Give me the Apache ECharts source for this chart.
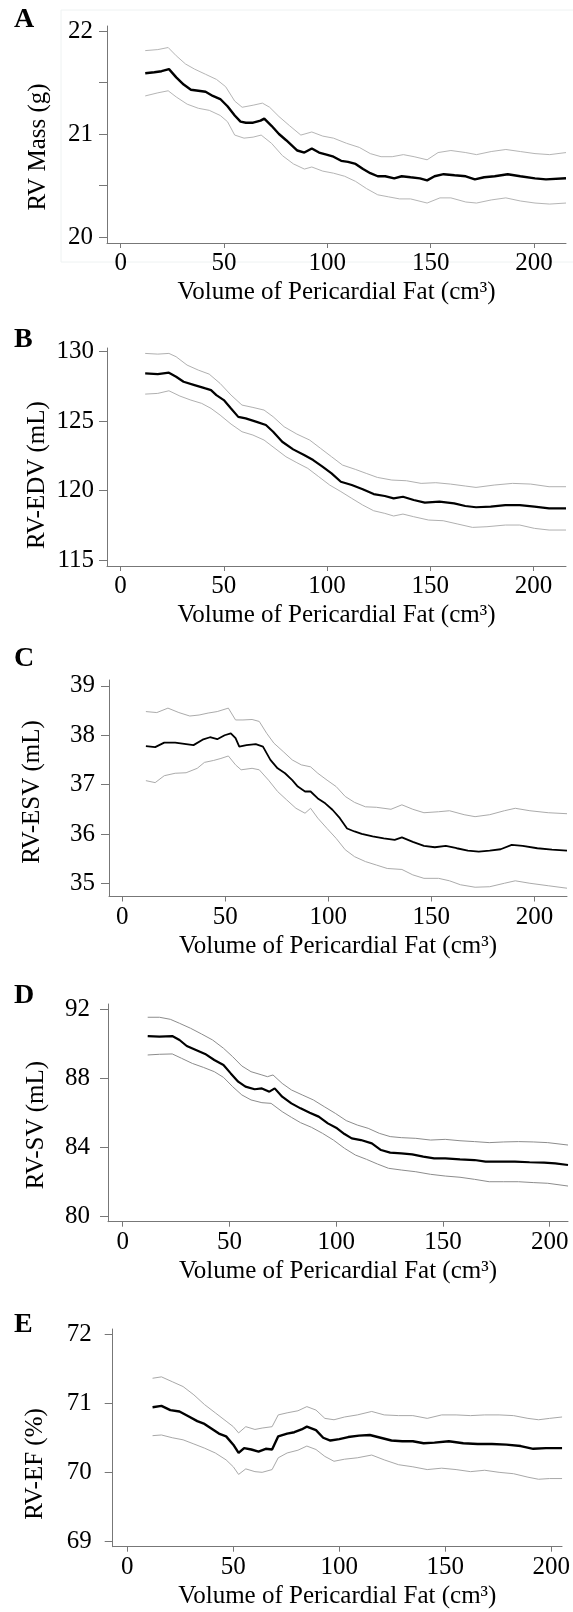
<!DOCTYPE html>
<html>
<head>
<meta charset="utf-8">
<script src="https://cdn.jsdelivr.net/npm/echarts@6/dist/echarts.min.js"></script>
<style>
html,body{margin:0;padding:0;background:#fff;}
#c{width:573px;height:1612px;}
</style>
</head>
<body>
<div id="c"></div>
<script>
// ---- Data (x = volume of pericardial fat, y = estimate) ----
const xTicks = [0, 50, 100, 150, 200];
const xTitle = 'Volume of Pericardial Fat (cm\u00B3)';

// Panel A: RV Mass (g)
const aYTicks = [20, 21, 22];
const aMean = [[11.9,21.59],[16.3,21.60],[19.8,21.61],[23.4,21.63],[26.9,21.55],[30.5,21.48],[34,21.43],[37.6,21.42],[41.1,21.41],[44.6,21.37],[48.2,21.34],[51.7,21.27],[55.2,21.18],[58,21.12],[60.6,21.11],[64.1,21.11],[67.7,21.13],[69.5,21.15],[73,21.08],[76.6,21.00],[80.1,20.94],[82.8,20.89],[85.5,20.84],[88.9,20.82],[92.5,20.86],[96,20.82],[99.6,20.80],[103,20.78],[106.7,20.74],[110,20.73],[113.7,20.71],[117.3,20.66],[120.8,20.62],[124.4,20.59],[128,20.59],[132.4,20.57],[136,20.59],[140.3,20.58],[144.8,20.57],[148.3,20.55],[151.9,20.59],[156.3,20.61],[161.6,20.60],[167,20.59],[171.4,20.56],[175.9,20.58],[181,20.59],[187.3,20.61],[193.4,20.59],[200.5,20.57],[205.8,20.56],[215.5,20.57]];
const aUpper = [[11.9,21.81],[18,21.82],[23,21.84],[26.9,21.76],[31.4,21.68],[35.8,21.63],[41.1,21.58],[46.4,21.53],[50.8,21.46],[55.2,21.32],[58.8,21.26],[64.1,21.28],[68.6,21.30],[72.1,21.26],[76.6,21.17],[81.8,21.08],[87.2,20.99],[92.5,21.02],[97.8,20.98],[103,20.96],[109.3,20.91],[115.5,20.87],[120.8,20.81],[126,20.78],[131.4,20.78],[136.8,20.80],[142,20.78],[148.3,20.75],[153.6,20.82],[159.8,20.84],[167,20.82],[172.2,20.80],[179.3,20.83],[186.4,20.85],[193.4,20.83],[200.5,20.81],[207.6,20.80],[215.5,20.82]];
const aLower = [[11.9,21.37],[18,21.40],[23,21.42],[26.9,21.36],[32.2,21.29],[37.6,21.25],[42.9,21.23],[48.2,21.18],[51.7,21.12],[55.2,20.99],[59.7,20.96],[64.1,20.97],[68,20.99],[73,20.91],[78.3,20.79],[83.6,20.71],[88.9,20.66],[92.5,20.68],[97.8,20.64],[103,20.62],[108.4,20.59],[113.7,20.54],[119,20.47],[124.4,20.41],[129.7,20.39],[135,20.37],[140.3,20.37],[148.3,20.33],[154.5,20.38],[159.8,20.38],[167,20.34],[172.2,20.33],[179.3,20.36],[186.4,20.38],[193.4,20.35],[200.5,20.33],[207.6,20.32],[215.5,20.33]];

// Panel B: RV-EDV (mL)
const bYTicks = [115, 120, 125, 130];
const bMean = [[11.9,128.44],[18,128.39],[23.4,128.49],[26.9,128.20],[30.5,127.84],[35.8,127.60],[41.1,127.36],[43.8,127.24],[46.4,126.88],[50,126.52],[53.5,125.91],[57,125.31],[60.6,125.20],[65.9,124.95],[70.4,124.72],[73.9,124.24],[78.3,123.52],[83.6,122.97],[88.9,122.56],[93.3,122.20],[97.8,121.72],[102.2,121.24],[106.7,120.64],[112,120.40],[117.3,120.10],[122.6,119.75],[128,119.61],[132.3,119.44],[136.8,119.56],[142,119.32],[147.4,119.13],[154.5,119.20],[161.6,119.08],[167,118.89],[172.2,118.80],[179.3,118.84],[186.4,118.96],[193.4,118.96],[200.5,118.84],[207.6,118.72],[215.8,118.72]];
const bUpper = [[11.9,129.88],[18,129.83],[23.4,129.88],[26.9,129.64],[32.2,129.04],[37.6,128.68],[42.9,128.39],[48.2,127.72],[53.5,126.88],[58.8,126.16],[64.1,125.99],[69.5,125.80],[73.9,125.32],[79.2,124.60],[85.4,124.07],[91.6,123.64],[96.9,123.04],[102.2,122.44],[107.5,121.84],[113.7,121.53],[119,121.24],[124.4,120.95],[131.4,120.76],[138.5,120.71],[145.6,120.52],[152.7,120.57],[159.8,120.47],[167,120.33],[172.2,120.23],[181,120.40],[189.9,120.52],[198.7,120.47],[207.6,120.28],[215.8,120.28]];
const bLower = [[11.9,126.95],[18,127.00],[23.4,127.19],[28.7,126.81],[34,126.52],[39.3,126.28],[43.8,125.92],[48.2,125.44],[53.5,124.79],[58.8,124.24],[64.1,124.00],[69.5,123.64],[74.8,123.04],[80.1,122.44],[85.4,122.01],[90.7,121.60],[96,121.00],[101.3,120.40],[106.7,119.93],[112,119.44],[117.3,118.96],[122.6,118.55],[128,118.36],[132.3,118.17],[136.8,118.31],[142,118.12],[149.2,117.88],[156.3,117.83],[163.4,117.59],[170.5,117.35],[177.5,117.40],[186.4,117.52],[193.4,117.52],[200.5,117.28],[207.6,117.16],[215.8,117.16]];

// Panel C: RV-ESV (mL)
const cYTicks = [35, 36, 37, 38, 39];
const cMean = [[11.5,37.78],[16,37.76],[20.4,37.85],[25.7,37.85],[31,37.82],[34.6,37.80],[39,37.91],[42.6,37.96],[46.1,37.92],[49.7,38.00],[52.7,38.04],[55,37.94],[56.8,37.77],[60.3,37.80],[64.8,37.82],[68.3,37.77],[71.9,37.50],[75.4,37.33],[79,37.23],[82.5,37.09],[85.2,36.96],[88.7,36.86],[91.4,36.86],[94.9,36.72],[98.5,36.62],[102,36.49],[105.6,36.32],[109.1,36.11],[112.7,36.05],[116.2,36.00],[121.5,35.95],[126.9,35.91],[132.2,35.88],[135.7,35.93],[141,35.84],[146.4,35.76],[151.7,35.73],[157,35.76],[162.3,35.71],[167.7,35.66],[173,35.64],[178.3,35.66],[183.6,35.69],[189,35.78],[194.3,35.76],[201.4,35.71],[208.5,35.68],[215.8,35.66]];
const cUpper = [[11.5,38.48],[16.8,38.46],[22.2,38.55],[27.5,38.46],[32.8,38.39],[37.3,38.41],[41.7,38.45],[46.1,38.48],[51.5,38.55],[55,38.31],[58.6,38.31],[63,38.32],[66.5,38.28],[70.1,38.04],[73.6,37.84],[78.1,37.67],[82.5,37.50],[86.9,37.40],[91.4,37.36],[94.9,37.23],[99.4,37.09],[103.8,36.96],[108.2,36.76],[112.7,36.64],[118,36.55],[123.3,36.54],[130.4,36.50],[135.7,36.59],[141,36.50],[146.4,36.43],[153.5,36.45],[158.8,36.47],[165.9,36.39],[171.2,36.35],[178.3,36.39],[185.4,36.47],[190.7,36.52],[197.8,36.47],[206.7,36.43],[215.8,36.41]];
const cLower = [[11.5,37.08],[16,37.04],[20.4,37.18],[25.7,37.23],[31,37.24],[36.4,37.33],[39.9,37.45],[44.4,37.49],[47.9,37.53],[51.5,37.58],[55,37.40],[57.7,37.30],[63,37.33],[66.5,37.30],[71,37.09],[75.4,36.86],[79.8,36.69],[84.3,36.52],[88.7,36.42],[91.4,36.52],[94.9,36.32],[99.4,36.11],[103.8,35.91],[108.2,35.68],[112.7,35.54],[118,35.44],[123.3,35.37],[128.6,35.30],[135.7,35.28],[141,35.17],[146.4,35.10],[153.5,35.10],[158.8,35.05],[164.1,34.97],[171.2,34.92],[178.3,34.93],[185.4,35.00],[190.7,35.05],[197.8,35.00],[206.7,34.95],[215.8,34.90]];

// Panel D: RV-SV (mL)
const dYTicks = [80, 84, 88, 92];
const dMean = [[11.7,90.45],[17.2,90.41],[23.2,90.45],[26.6,90.22],[30,89.87],[34.3,89.64],[38.6,89.41],[42.9,89.06],[47.2,88.77],[50.6,88.28],[54.1,87.80],[57.5,87.51],[61.8,87.36],[65.2,87.41],[68.7,87.22],[71.2,87.41],[74.7,86.93],[79,86.54],[83.3,86.25],[87.6,86.00],[91.8,85.77],[96.1,85.38],[100.4,85.09],[103.9,84.76],[107.3,84.51],[111.6,84.41],[116.7,84.22],[121,83.83],[125.3,83.68],[130.5,83.64],[135.6,83.58],[140.8,83.45],[145.9,83.35],[151.1,83.35],[158,83.29],[164.8,83.25],[170,83.16],[176.8,83.16],[183.7,83.16],[190.6,83.12],[197.4,83.10],[202.6,83.06],[208.6,82.96]];
const dUpper = [[11.7,91.54],[17.2,91.54],[22.3,91.42],[26.6,91.19],[31.8,90.90],[36.9,90.57],[42.1,90.22],[47.2,89.74],[51.5,89.25],[55.8,88.71],[60.1,88.38],[65.2,88.19],[67.8,88.09],[70.4,88.19],[74.7,87.70],[79,87.32],[84.1,87.03],[89.3,86.74],[94.4,86.35],[99.6,85.96],[104.7,85.54],[109.9,85.28],[115,85.09],[120.2,84.80],[125.3,84.61],[130.5,84.55],[137.3,84.51],[144.2,84.41],[151.1,84.45],[158,84.37],[164.8,84.32],[171.7,84.26],[178.5,84.30],[185.4,84.32],[192.3,84.30],[199.1,84.26],[208.6,84.12]];
const dLower = [[11.7,89.35],[17.2,89.39],[23.2,89.41],[27.5,89.16],[32.6,88.86],[37.8,88.63],[42.9,88.38],[47.2,88.05],[51.5,87.51],[55.8,87.03],[60.1,86.74],[65.2,86.58],[69.5,86.54],[74.7,86.06],[79,85.73],[83.3,85.42],[88.4,85.15],[93.6,84.80],[98.7,84.41],[103.9,83.93],[109,83.54],[114.2,83.29],[119.3,83.02],[124.5,82.77],[130.5,82.67],[137.3,82.57],[144.2,82.42],[151.1,82.32],[158,82.25],[164.8,82.13],[171.7,81.99],[178.5,81.99],[185.4,81.99],[192.3,81.94],[199.1,81.90],[208.6,81.74]];

// Panel E: RV-EF (%)
const eYTicks = [69, 70, 71, 72];
const eMean = [[11.9,70.94],[16.1,70.96],[20.3,70.90],[24.6,70.88],[28.8,70.81],[33,70.74],[36.4,70.70],[39.8,70.63],[43.2,70.56],[46.6,70.52],[50,70.40],[52.5,70.28],[55.1,70.35],[58.5,70.33],[61.9,70.30],[65.3,70.34],[68.3,70.33],[71.2,70.52],[75.4,70.56],[78.8,70.58],[82.2,70.62],[84.7,70.66],[89,70.61],[92.4,70.50],[95.8,70.46],[100,70.48],[104.2,70.51],[109.3,70.53],[114.4,70.54],[119.5,70.50],[124.6,70.46],[129.7,70.45],[134.7,70.45],[139.8,70.42],[144.9,70.43],[151.7,70.45],[158.5,70.42],[165.3,70.41],[172,70.41],[178.8,70.40],[185.6,70.38],[191.5,70.34],[197.5,70.35],[205.1,70.35]];
const eUpper = [[11.9,71.36],[16.1,71.38],[21.2,71.31],[26.3,71.24],[31.4,71.12],[36.4,70.98],[41.5,70.86],[46.6,70.74],[50,70.66],[52.5,70.57],[55.9,70.66],[60.2,70.62],[63.6,70.64],[68.3,70.66],[71.2,70.83],[75.4,70.86],[80.5,70.89],[84.7,70.95],[89,70.90],[93.2,70.78],[97.5,70.76],[102.5,70.80],[108.5,70.83],[115.3,70.88],[121.2,70.83],[128,70.82],[134.7,70.82],[141.5,70.78],[148.3,70.83],[155.1,70.83],[161.9,70.82],[168.6,70.83],[175.4,70.83],[182.2,70.82],[189,70.78],[194,70.76],[199.2,70.78],[205.1,70.80]];
const eLower = [[11.9,70.53],[16.1,70.54],[21.2,70.50],[26.3,70.47],[31.4,70.41],[36.4,70.35],[41.5,70.28],[46.6,70.18],[50,70.08],[52.5,69.97],[55.9,70.05],[60.2,70.01],[63.6,70.00],[68.3,70.04],[71.2,70.21],[75.4,70.28],[80.5,70.32],[84.7,70.38],[89,70.33],[93.2,70.23],[97.5,70.16],[102.5,70.19],[108.5,70.21],[115.3,70.25],[121.2,70.18],[128,70.11],[134.7,70.08],[141.5,70.04],[148.3,70.06],[155.1,70.04],[161.9,70.01],[168.6,70.03],[175.4,70.00],[182.2,69.98],[189,69.93],[194,69.90],[199.2,69.91],[205.1,69.91]];

// ---- Layout / styling ----
const FONT = '"Liberation Serif", "Times New Roman", serif';
const panels = [
  {letter:'A', title:'RV Mass (g)', ticks:aYTicks, minor:[20,20.5,21,21.5,22], mean:aMean, up:aUpper, lo:aLower,
   left:107, right:7, top:26, height:217, xmin:-6.6, xmax:215.5, ymin:19.942, ymax:22.049, lblMargin:14,
   letterY:20, titleX:38, titleY:147, ci:'#b5b5b5', meanW:2.4},
  {letter:'B', title:'RV-EDV (mL)', ticks:bYTicks, minor:bYTicks, mean:bMean, up:bUpper, lo:bLower,
   left:107, right:7, top:348, height:218, xmin:-6.6, xmax:215.8, ymin:114.57, ymax:130.27, lblMargin:13,
   letterY:340, titleX:37, titleY:475, ci:'#b0b0b0', meanW:2.2},
  {letter:'C', title:'RV-ESV (mL)', ticks:cYTicks, minor:cYTicks, mean:cMean, up:cUpper, lo:cLower,
   left:109, right:6, top:680, height:216.5, xmin:-6.4, xmax:215.8, ymin:34.732, ymax:39.12, lblMargin:14,
   letterY:659, titleX:32, titleY:792, ci:'#ababab', meanW:1.8},
  {letter:'D', title:'RV-SV (mL)', ticks:dYTicks, minor:dYTicks, mean:dMean, up:dUpper, lo:dLower,
   left:108, right:5, top:1004, height:217.7, xmin:-6.9, xmax:208.6, ymin:79.669, ymax:92.31, lblMargin:18,
   letterY:996, titleX:36, titleY:1125, ci:'#8c8c8c', meanW:2.2},
  {letter:'E', title:'RV-EF (%)', ticks:eYTicks, minor:eYTicks, mean:eMean, up:eUpper, lo:eLower,
   left:112.7, right:5, top:1329, height:217.7, xmin:-6.9, xmax:205.1, ymin:68.925, ymax:72.072, lblMargin:21,
   letterY:1325, titleX:35, titleY:1464, ci:'#a8a8a8', meanW:2.4}
];

const grid = [], xAxis = [], yAxis = [], series = [], graphic = [];
const axisColor = '#777';
panels.forEach((p, i) => {
  grid.push({left:p.left, right:p.right, top:p.top, height:p.height, containLabel:false});
  xAxis.push({
    type:'value', gridIndex:i, min:p.xmin, max:p.xmax,
    axisLine:{show:true, onZero:false, lineStyle:{color:axisColor, width:1}},
    axisTick:{show:true, length:5, inside:false, customValues:xTicks, lineStyle:{color:axisColor}},
    axisLabel:{customValues:xTicks, margin:8, color:'#000', fontFamily:FONT, fontSize:25, showMinLabel:true, showMaxLabel:true},
    splitLine:{show:false},
    name:xTitle, nameLocation:'middle', nameGap:37,
    nameTextStyle:{color:'#000', fontFamily:FONT, fontSize:25}
  });
  yAxis.push({
    type:'value', gridIndex:i, min:p.ymin, max:p.ymax,
    axisLine:{show:true, onZero:false, lineStyle:{color:axisColor, width:1}},
    axisTick:{show:true, length:8, customValues:p.minor, lineStyle:{color:axisColor}},
    axisLabel:{customValues:p.ticks, margin:p.lblMargin, color:'#000', fontFamily:FONT, fontSize:25},
    splitLine:{show:false}
  });
  const mk = (data, color, w, z) => ({
    type:'line', xAxisIndex:i, yAxisIndex:i, data:data, showSymbol:false, symbol:'none',
    lineStyle:{color:color, width:w}, z:z, animation:false, silent:true
  });
  series.push(mk(p.up, p.ci, 1, 2));
  series.push(mk(p.lo, p.ci, 1, 2));
  series.push(mk(p.mean, '#000', p.meanW, 3));
  graphic.push({type:'text', x:14, y:p.letterY, style:{text:p.letter, font:'bold 28px ' + FONT, fill:'#000', align:'left', verticalAlign:'middle'}});
  graphic.push({type:'text', x:p.titleX, y:p.titleY, rotation:Math.PI/2, style:{text:p.title, font:'25px ' + FONT, fill:'#000', align:'center', verticalAlign:'middle'}});
});
// faint outer frame visible around panel A
graphic.push({type:'rect', shape:{x:61, y:10, width:520, height:252}, style:{fill:'none', stroke:'#eef2f2', lineWidth:1}, z:-1});

const chart = echarts.init(document.getElementById('c'), null, {renderer:'canvas'});
chart.setOption({animation:false, backgroundColor:'#fff', grid, xAxis, yAxis, series, graphic});
</script>
</body>
</html>
